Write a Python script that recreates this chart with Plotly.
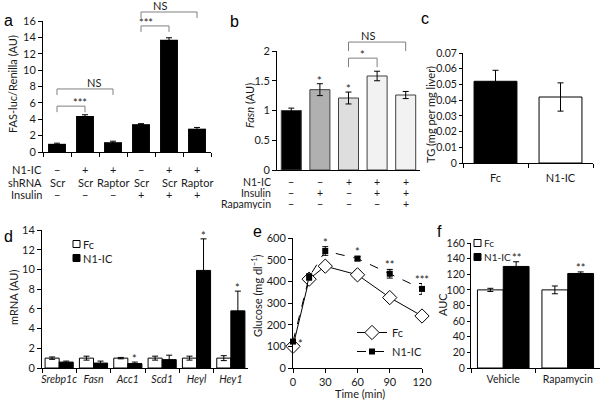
import plotly.graph_objects as go

W, H = 604, 402

# ---------------- data ----------------
a_values = [1.0, 4.4, 1.2, 3.4, 13.7, 2.85]
a_errors = [0.08, 0.15, 0.12, 0.06, 0.25, 0.15]
a_n1ic = ["−", "+", "+", "−", "+", "+"]
a_shrna = ["Scr", "Scr", "Raptor", "Scr", "Scr", "Raptor"]
a_insulin = ["−", "−", "−", "+", "+", "+"]
a_brackets = [(0, 1, 5.6, "***"), (0, 2, 7.7, "NS"), (3, 4, 15.4, "***"), (3, 5, 17.1, "NS")]

b_values = [1.0, 1.35, 1.21, 1.58, 1.26]
b_errors = [0.04, 0.10, 0.10, 0.08, 0.06]
b_n1ic = ["−", "−", "+", "+", "+"]
b_insulin = ["−", "+", "−", "+", "+"]
b_rapamycin = ["−", "−", "−", "−", "+"]
b_stars = ["", "*", "*", "", ""]
b_brackets = [(2, 3, 1.88, "*"), (2, 4, 2.15, "NS")]

c_groups = ["Fc", "N1-IC"]
c_values = [0.052, 0.042]
c_errors = [0.007, 0.009]

d_genes = ["Srebp1c", "Fasn", "Acc1", "Scd1", "Heyl", "Hey1"]
d_fc = [1.0, 1.0, 1.0, 1.0, 1.0, 1.0]
d_fc_err = [0.12, 0.2, 0.07, 0.2, 0.2, 0.25]
d_n1ic = [0.6, 0.5, 0.45, 0.85, 9.9, 5.8]
d_n1ic_err = [0.1, 0.2, 0.15, 0.45, 3.2, 2.0]
d_stars = ["", "", "*", "", "*", "*"]

e_time = [0, 15, 30, 60, 90, 120]
e_fc = [100, 410, 470, 430, 325, 240]
e_fc_err = [5, 15, 12, 20, 15, 10]
e_n1ic = [122, 420, 540, 505, 435, 365]
e_n1ic_err = [8, 15, 20, 10, 20, 25]
e_stars = ["*", "", "*", "*", "**", "***"]

f_groups = ["Vehicle", "Rapamycin"]
f_fc = [100, 100]
f_fc_err = [2, 5]
f_n1ic = [130, 121]
f_n1ic_err = [6, 2]
f_stars = ["**", "**"]

series_names = ["Fc", "N1-IC"]

# ---------------- style ----------------
FONT = "Lato, 'Liberation Sans', sans-serif"
TXT = "#1a1a1a"
GRAY = "#7f7f7f"
b_colors = ["#000000", "#b0b0b0", "#dedede", "#f2f2f2", "#f2f2f2"]
series_fill = ["white", "black"]


def px_x(p):
    return p / W


def px_y(p):
    return 1 - p / H


# pixel boxes of each panel plot area: (left, right, top, bottom)
BOX = {
    "a": (43, 211, 21, 152),
    "b": (277, 420, 51, 170),
    "c": (463, 593, 53, 163),
    "d": (42, 248, 230, 368),
    "e": (293, 422, 238, 368),
    "f": (471, 600, 243, 368),
}


def xdom(k):
    l, r, t, b = BOX[k]
    return [px_x(l), px_x(r)]


def ydom(k):
    l, r, t, b = BOX[k]
    return [px_y(b), px_y(t)]


def err(arr):
    return dict(type="data", array=arr, color="black", thickness=1, width=3)


fig = go.Figure()

# a
fig.add_trace(go.Bar(x=list(range(len(a_values))), y=a_values, error_y=err(a_errors),
                     marker=dict(color="black", line=dict(width=0)), width=0.64, offset=-0.32,
                     xaxis="x", yaxis="y", showlegend=False))
# b
fig.add_trace(go.Bar(x=list(range(len(b_values))), y=b_values, error_y=err(b_errors),
                     marker=dict(color=b_colors, line=dict(color="#404040", width=1)), width=0.7, offset=-0.35,
                     xaxis="x2", yaxis="y2", showlegend=False))
# c
fig.add_trace(go.Bar(x=c_groups, y=c_values, error_y=err(c_errors),
                     marker=dict(color=["black", "white"], line=dict(color="black", width=1)), width=0.66, offset=-0.33,
                     xaxis="x3", yaxis="y3", showlegend=False))
# d
fig.add_trace(go.Bar(x=d_genes, y=d_fc, error_y=err(d_fc_err), name=series_names[0],
                     marker=dict(color=series_fill[0], line=dict(color="black", width=1)), width=0.41, offset=-0.41,
                     xaxis="x4", yaxis="y4", showlegend=False))
fig.add_trace(go.Bar(x=d_genes, y=d_n1ic, error_y=err(d_n1ic_err), name=series_names[1],
                     marker=dict(color=series_fill[1], line=dict(color="black", width=1)), width=0.41, offset=0,
                     xaxis="x4", yaxis="y4", showlegend=False))
# e
fig.add_trace(go.Scatter(x=e_time, y=e_fc, error_y=err(e_fc_err), name=series_names[0], mode="lines+markers",
                         line=dict(color="black", width=1),
                         marker=dict(symbol="diamond", size=11, color="white", line=dict(color="black", width=1)),
                         cliponaxis=False, xaxis="x5", yaxis="y5", legend="legend"))
fig.add_trace(go.Scatter(x=e_time, y=e_n1ic, error_y=err(e_n1ic_err), name=series_names[1], mode="lines+markers",
                         line=dict(color="black", width=1, dash="dash"),
                         marker=dict(symbol="square", size=6, color="black"),
                         cliponaxis=False, xaxis="x5", yaxis="y5", legend="legend"))
# f
fig.add_trace(go.Bar(x=f_groups, y=f_fc, error_y=err(f_fc_err), name=series_names[0],
                     marker=dict(color=series_fill[0], line=dict(color="black", width=1)), width=0.4, offset=-0.4,
                     xaxis="x6", yaxis="y6", showlegend=False))
fig.add_trace(go.Bar(x=f_groups, y=f_n1ic, error_y=err(f_n1ic_err), name=series_names[1],
                     marker=dict(color=series_fill[1], line=dict(color="black", width=1)), width=0.4, offset=0,
                     xaxis="x6", yaxis="y6", showlegend=False))


def axis(**kw):
    base = dict(showline=True, linecolor="black", linewidth=1, ticks="outside", ticklen=4,
                tickcolor="black", tickwidth=1, showgrid=False, zeroline=False, automargin=False,
                fixedrange=True, tickangle=0, tickfont=dict(size=11, color=TXT, family=FONT))
    base.update(kw)
    return base


SMALL = dict(size=10.5, color=TXT, family=FONT)

fig.update_layout(
    width=W, height=H, margin=dict(l=0, r=0, t=0, b=0), autosize=False,
    template="none", paper_bgcolor="white", plot_bgcolor="rgba(0,0,0,0)",
    font=dict(family=FONT, size=11, color=TXT), barmode="overlay",
    xaxis=axis(domain=xdom("a"), anchor="y", type="category", range=[-0.5, 5.5], tickson="boundaries",
               showticklabels=False),
    yaxis=axis(domain=ydom("a"), anchor="x", range=[0, 16], dtick=2),
    xaxis2=axis(domain=xdom("b"), anchor="y2", type="category", range=[-0.5, 4.5], tickson="boundaries",
                showticklabels=False, ticklen=0),
    yaxis2=axis(domain=ydom("b"), anchor="x2", range=[0, 2], dtick=0.5),
    xaxis3=axis(domain=xdom("c"), anchor="y3", type="category", range=[-0.5, 1.5], tickson="boundaries",
                ticklabelstandoff=5),
    yaxis3=axis(domain=ydom("c"), anchor="x3", range=[0, 0.07], dtick=0.01, tickfont=SMALL, ticklen=3),
    xaxis4=axis(domain=xdom("d"), anchor="y4", type="category", range=[-0.5, 5.5], tickson="boundaries",
                tickvals=d_genes, ticktext=["<i>%s</i>" % g for g in d_genes], ticklabelstandoff=1,
                tickfont=SMALL),
    yaxis4=axis(domain=ydom("d"), anchor="x4", range=[0, 14], dtick=2),
    xaxis5=axis(domain=xdom("e"), anchor="y5", range=[0, 120], dtick=30),
    yaxis5=axis(domain=ydom("e"), anchor="x5", range=[0, 600], dtick=100),
    xaxis6=axis(domain=xdom("f"), anchor="y6", type="category", range=[-0.5, 1.5], tickson="boundaries",
                ticklabelstandoff=1, tickfont=SMALL),
    yaxis6=axis(domain=ydom("f"), anchor="x6", range=[0, 160], dtick=20, tickfont=SMALL, ticklen=3),
    legend=dict(x=px_x(352), y=px_y(318), xanchor="left", yanchor="top", bgcolor="rgba(0,0,0,0)",
                font=dict(size=11, color=TXT, family=FONT), traceorder="normal"),
)

ann = []
shapes = []

# axis titles (placed at the reference positions)
for text, xp, yp, ang in [("FAS-luc/Renilla (AU)", 13, 84, -90), ("<i>Fasn</i> (AU)", 249, 106, -90),
                          ("TG (mg per mg liver)", 431, 115, -90), ("mRNA (AU)", 13, 298, -90),
                          ("Glucose (mg dl<sup>−1</sup>)", 256, 296, -90), ("AUC", 442, 305, -90),
                          ("Time (min)", 360, 393, 0)]:
    ann.append(dict(xref="paper", yref="paper", x=px_x(xp), y=px_y(yp), text=text, showarrow=False,
                    textangle=ang, xanchor="center", yanchor="middle", font=dict(size=11, color=TXT)))


def bracket(xa, ya, key, n, ymax, i, j, level, text, leg_px):
    l, r, t, b = BOX[key]
    xi = (i + 0.5) / n
    xj = (j + 0.5) / n
    yl = level / ymax
    leg = leg_px / (b - t)
    line = dict(color=GRAY, width=1)
    xr, yr = xa + " domain", ya + " domain"
    shapes.append(dict(type="line", xref=xr, yref=yr, x0=xi, x1=xj, y0=yl, y1=yl, line=line))
    shapes.append(dict(type="line", xref=xr, yref=yr, x0=xi, x1=xi, y0=yl, y1=yl - leg, line=line))
    shapes.append(dict(type="line", xref=xr, yref=yr, x0=xj, x1=xj, y0=yl, y1=yl - leg, line=line))
    star = "*" in text
    ann.append(dict(xref=xr, yref=yr, x=(xi + xj) / 2, y=yl, text=text, showarrow=False,
                    yanchor="bottom", yshift=-5 if star else -2, font=dict(size=11, color=TXT)))


for (i, j, lev, t) in a_brackets:
    bracket("x", "y", "a", len(a_values), 16, i, j, lev, t, 6)
for (i, j, lev, t) in b_brackets:
    bracket("x2", "y2", "b", len(b_values), 2, i, j, lev, t, 9)

# condition rows under a
for rowtext, vals, ypx in [("N1-IC", a_n1ic, 170), ("shRNA", a_shrna, 182), ("Insulin", a_insulin, 195)]:
    ann.append(dict(xref="paper", yref="paper", x=px_x(44), y=px_y(ypx), text=rowtext, showarrow=False,
                    xanchor="right", yanchor="middle", font=dict(size=11, color=TXT)))
    for i, v in enumerate(vals):
        ann.append(dict(xref="x", yref="paper", x=i, y=px_y(ypx), text=v, showarrow=False,
                        yanchor="middle", font=dict(size=11, color=TXT)))
# condition rows under b
for rowtext, vals, ypx in [("N1-IC", b_n1ic, 181), ("Insulin", b_insulin, 192), ("Rapamycin", b_rapamycin, 203)]:
    ann.append(dict(xref="paper", yref="paper", x=px_x(273), y=px_y(ypx), text=rowtext, showarrow=False,
                    xanchor="right", yanchor="middle", height=11, font=dict(size=10.5, color=TXT)))
    for i, v in enumerate(vals):
        ann.append(dict(xref="x2", yref="paper", x=i, y=px_y(ypx), text=v, showarrow=False,
                        yanchor="middle", height=11, font=dict(size=10.5, color=TXT)))

# stars b
for i, s in enumerate(b_stars):
    if s:
        ann.append(dict(xref="x2", yref="y2", x=i, y=b_values[i] + b_errors[i], text=s, showarrow=False,
                        yanchor="bottom", yshift=-5, font=dict(size=11, color=TXT)))
# stars d (on the N1-IC bar)
for i, s in enumerate(d_stars):
    if s:
        ann.append(dict(xref="x4", yref="y4", x=d_genes[i], y=d_n1ic[i] + d_n1ic_err[i], text=s,
                        showarrow=False, xshift=7, yanchor="bottom", yshift=-5, font=dict(size=11, color=TXT)))
# stars e
for i, s in enumerate(e_stars):
    if not s:
        continue
    if i == 0:
        ann.append(dict(xref="x5", yref="y5", x=e_time[i], y=e_n1ic[i], text=s, showarrow=False,
                        xanchor="left", xshift=3, yanchor="middle", yshift=-2, font=dict(size=11, color=TXT)))
    else:
        ann.append(dict(xref="x5", yref="y5", x=e_time[i], y=e_n1ic[i] + e_n1ic_err[i], text=s,
                        showarrow=False, yanchor="bottom", yshift=-4, font=dict(size=11, color=TXT)))
# stars f
for i, s in enumerate(f_stars):
    ann.append(dict(xref="x6", yref="y6", x=f_groups[i], y=f_n1ic[i] + f_n1ic_err[i], text=s,
                    showarrow=False, xshift=13, yanchor="bottom", yshift=-4, font=dict(size=11, color=TXT)))


# compact legends for bar panels d and f (square swatch + label)
def bar_legend(x_px, y_px, gap_px, size):
    for k, name in enumerate(series_names):
        yc = y_px + k * gap_px
        shapes.append(dict(type="rect", xref="paper", yref="paper",
                           x0=px_x(x_px), x1=px_x(x_px + 7), y0=px_y(yc + 3.5), y1=px_y(yc - 3.5),
                           fillcolor=series_fill[k], line=dict(color="black", width=1)))
        ann.append(dict(xref="paper", yref="paper", x=px_x(x_px + 8), y=px_y(yc), text=name,
                        showarrow=False, xanchor="left", yanchor="middle", font=dict(size=size, color=TXT)))


bar_legend(73, 244, 14, 11)
bar_legend(474, 243, 14, 10)

# panel letters
for letter, (xp, yp) in {"a": (8, 20), "b": (234, 21), "c": (425, 19), "d": (8, 236),
                         "e": (257, 231), "f": (439, 231)}.items():
    ann.append(dict(xref="paper", yref="paper", x=px_x(xp), y=px_y(yp), text=letter, showarrow=False,
                    xanchor="center", yanchor="middle",
                    font=dict(size=16, color="black", family="'Liberation Sans', Arial, sans-serif")))

fig.update_layout(annotations=ann, shapes=shapes)
fig.write_html("out.html", config={"displayModeBar": False, "staticPlot": True},
               post_script="document.body.style.margin='0';document.body.style.padding='0';")
